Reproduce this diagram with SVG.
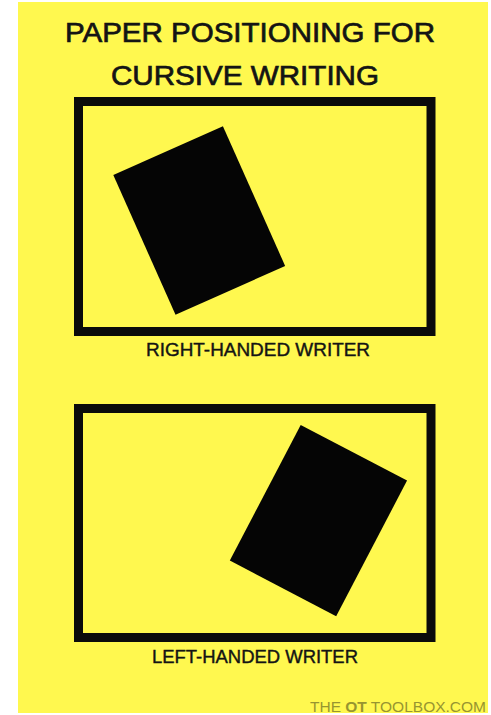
<svg xmlns="http://www.w3.org/2000/svg" width="491" height="715" viewBox="0 0 491 715">
<style>
.frame{fill:none;stroke:#0b0b0b;stroke-width:9}
.paper{fill:#050505}
.title{font-family:"Liberation Sans",Arial,sans-serif;font-size:28px;fill:#141414;stroke:#141414;stroke-width:0.7;text-anchor:middle}
.label{font-family:"Liberation Sans",Arial,sans-serif;font-size:18px;fill:#141414;stroke:#141414;stroke-width:0.4;text-anchor:middle}
.mark{font-family:"Liberation Sans",Arial,sans-serif;font-size:14px;fill:#979530}
</style>
<rect x="0" y="0" width="491" height="715" fill="#ffffff"/>
<rect x="18" y="2" width="470" height="711" fill="#fff84f"/>
<g id="title">
<text class="title" x="250" y="42" textLength="370" lengthAdjust="spacingAndGlyphs">PAPER POSITIONING FOR</text>
<text class="title" x="245" y="85" textLength="268" lengthAdjust="spacingAndGlyphs">CURSIVE WRITING</text>
</g>
<g id="right-handed">
<rect class="frame" x="78.5" y="101.5" width="352.5" height="230"/>
<rect class="paper" x="0" y="0" width="120" height="153" transform="translate(113.3 175) rotate(-24)"/>
<text class="label" x="258" y="356" textLength="224" lengthAdjust="spacingAndGlyphs">RIGHT-HANDED WRITER</text>
</g>
<g id="left-handed">
<rect class="frame" x="78.5" y="408.5" width="352.5" height="229"/>
<rect class="paper" x="0" y="0" width="120" height="153" transform="translate(300.7 425) rotate(27.6)"/>
<text class="label" x="255" y="663" textLength="206" lengthAdjust="spacingAndGlyphs">LEFT-HANDED WRITER</text>
</g>
<g id="connectors"></g>
<text class="mark" x="310" y="712" textLength="176" lengthAdjust="spacingAndGlyphs">THE <tspan font-weight="bold">OT</tspan> TOOLBOX.COM</text>
</svg>
